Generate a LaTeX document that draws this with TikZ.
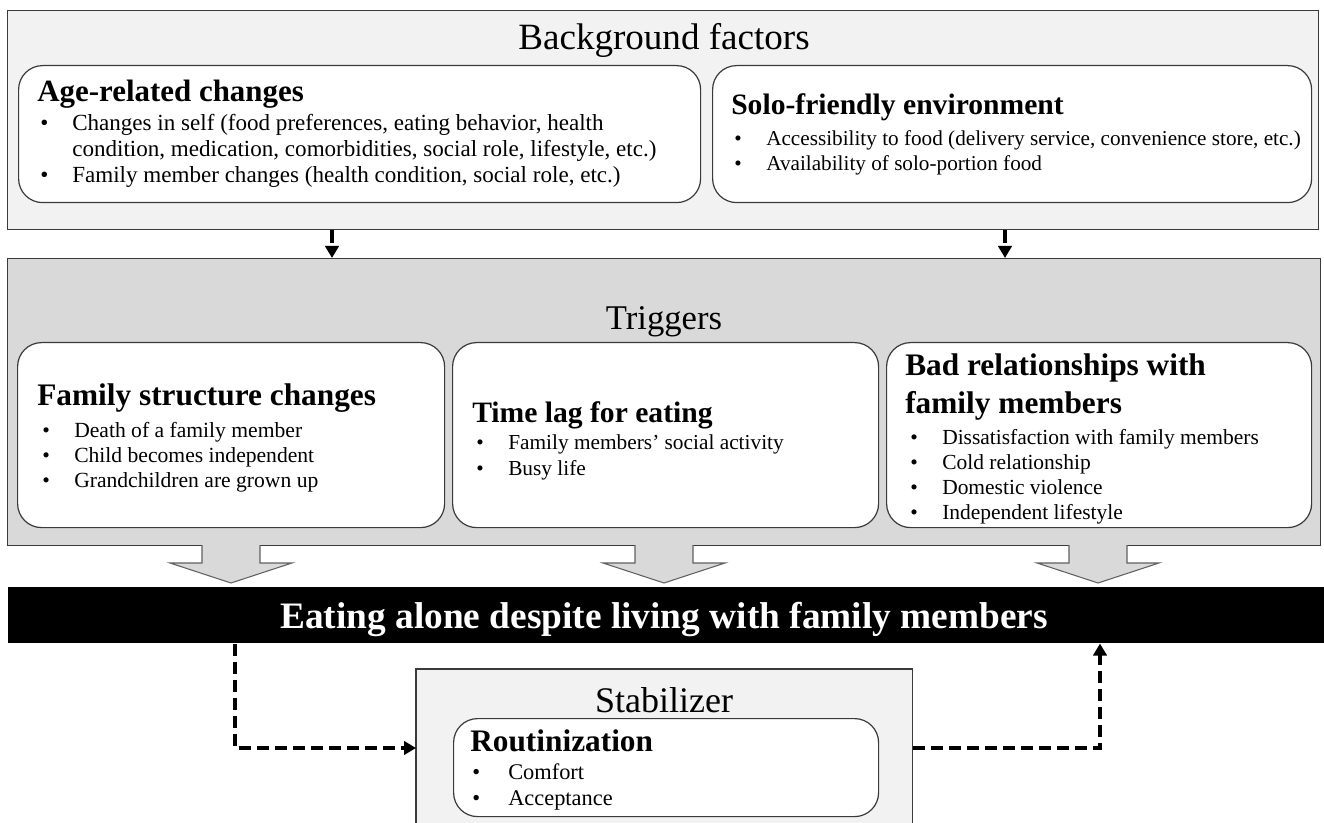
\documentclass[tikz,border=0pt]{standalone}
\usepackage{fontspec}
\setmainfont{Liberation Serif}
\usetikzlibrary{arrows.meta}
\definecolor{bgfill}{HTML}{F2F2F2}
\definecolor{trfill}{HTML}{D9D9D9}
\definecolor{edge}{HTML}{3A3A3A}
\tikzset{
 outerbox/.style={draw=edge, line width=1.1pt, anchor=north west, inner sep=0pt},
 roundbox/.style={draw=edge, line width=0.9pt, fill=white, rounded corners=18pt, anchor=north west, inner sep=0pt},
 sectitle/.style={font=\fontsize{#1}{30}\selectfont, anchor=base, inner sep=0pt},
 sectitle/.default=27,
 headtxt/.style={font=\bfseries\fontsize{#1}{26}\selectfont, anchor=base west, inner sep=0pt},
 headtxt/.default=23,
 bodytxt/.style={font=\fontsize{#1}{19}\selectfont, anchor=base west, inner sep=0pt},
 bodytxt/.default=16.1,
 dasharrow/.style={line width=3pt, dash pattern=on 9.5pt off 4pt, -{Triangle[length=9pt,width=10pt]}},
 blockarrow/.style={draw=edge!80, fill=trfill, line width=0.8pt},
}
\newcommand\bul{\makebox[24pt][l]{\textbullet}}
\begin{document}
\begin{tikzpicture}[x=0.75pt,y=-0.75pt]
\useasboundingbox (0,0) rectangle (1324,823);
% Background factors
\node[outerbox, fill=bgfill, minimum width=983.25pt, minimum height=164.25pt] (bg) at (7,10) {};
\node[sectitle=27.8] (bgt) at (664,50) {Background factors};
\node[roundbox, minimum width=511.5pt, minimum height=102.75pt] (age) at (18,65) {};
\node[roundbox, minimum width=449.25pt, minimum height=102.75pt] (solo) at (712,65) {};
\node[headtxt=23.2] (ageh) at (37,102) {Age-related changes};
\node[bodytxt=17.3] (age1) at (40,131) {\bul Changes in self (food preferences, eating behavior, health};
\node[bodytxt=17.3] (age2) at (72,157) {condition, medication, comorbidities, social role, lifestyle, etc.)};
\node[bodytxt=17.3] (age3) at (40,183) {\bul Family member changes (health condition, social role, etc.)};
\node[headtxt=22.2] (soloh) at (731,115) {Solo-friendly environment};
\node[bodytxt=15.9] (solo1) at (734,146) {\bul Accessibility to food (delivery service, convenience store, etc.)};
\node[bodytxt=15.9] (solo2) at (734,171) {\bul Availability of solo-portion food};
% Triggers
\node[outerbox, fill=trfill, minimum width=984.75pt, minimum height=215.25pt] (trig) at (7,258) {};
\node[sectitle=26] (trigt) at (664,330) {Triggers};
\node[roundbox, minimum width=320.25pt, minimum height=138.75pt] (fam) at (17,342) {};
\node[roundbox, minimum width=319.5pt, minimum height=138.75pt] (time) at (452,342) {};
\node[roundbox, minimum width=318.75pt, minimum height=138.75pt] (bad) at (886,342) {};
\node[headtxt=23.5] (famh) at (37,406) {Family structure changes};
\node[bodytxt=16.2] (fam1) at (42,437) {\bul Death of a family member};
\node[bodytxt=16.2] (fam2) at (42,462) {\bul Child becomes independent};
\node[bodytxt=16.2] (fam3) at (42,487) {\bul Grandchildren are grown up};
\node[headtxt=22.2] (timeh) at (472,422) {Time lag for eating};
\node[bodytxt=16] (time1) at (476,450) {\bul Family members’ social activity};
\node[bodytxt=16] (time2) at (476,475) {\bul Busy life};
\node[headtxt=23.5] (badh1) at (905,376) {Bad relationships with};
\node[headtxt=23.5] (badh2) at (905,413) {family members};
\node[bodytxt=16.1] (bad1) at (910,444) {\bul Dissatisfaction with family members};
\node[bodytxt=16.1] (bad2) at (910,469) {\bul Cold relationship};
\node[bodytxt=16.1] (bad3) at (910,494) {\bul Domestic violence};
\node[bodytxt=16.1] (bad4) at (910,519) {\bul Independent lifestyle};
% block arrows
\foreach \c in {231,664,1098}{
  \draw[blockarrow] (\c-29,545) -- (\c-29,563) -- (\c-61,563) -- (\c,583) -- (\c+61,563) -- (\c+29,563) -- (\c+29,545);
}
% black bar
\node[anchor=north west, fill=black, inner sep=0pt, minimum width=987pt, minimum height=42pt] (bar) at (8,587) {};
\node[anchor=base, text=white, font=\bfseries\fontsize{28}{32}\selectfont, inner sep=0pt] (bart) at (664,628) {Eating alone despite living with family members};
% stabilizer
\node[anchor=north west, fill=bgfill, inner sep=0pt, minimum width=372pt, minimum height=123pt] (stab) at (416,669) {};
\draw[edge, line width=1.1pt] (stab.south west) -- (stab.north west) -- (stab.north east) -- (stab.south east);
\node[sectitle=27] (stabt) at (664,712) {Stabilizer};
\node[roundbox, minimum width=318.75pt, minimum height=73.5pt] (rout) at (453,718) {};
\node[headtxt=23.5] (routh) at (470,751) {Routinization};
\node[bodytxt=16.8] (rout1) at (472,779) {\makebox[27pt][l]{\textbullet}Comfort};
\node[bodytxt=16.8] (rout2) at (472,805) {\makebox[27pt][l]{\textbullet}Acceptance};
% dashed connectors
\coordinate (d1) at (332,0);
\coordinate (d2) at (1005,0);
\coordinate (cl) at (235,748);
\coordinate (cr) at (1100,748);
\draw[dasharrow] (bg.south -| d1) -- (trig.north -| d1);
\draw[dasharrow] (bg.south -| d2) -- (trig.north -| d2);
\draw[dasharrow] (bar.south -| cl) |- (stab.west |- cl);
\draw[dasharrow] (stab.east |- cr) -| (bar.south -| cr);
\end{tikzpicture}
\end{document}
